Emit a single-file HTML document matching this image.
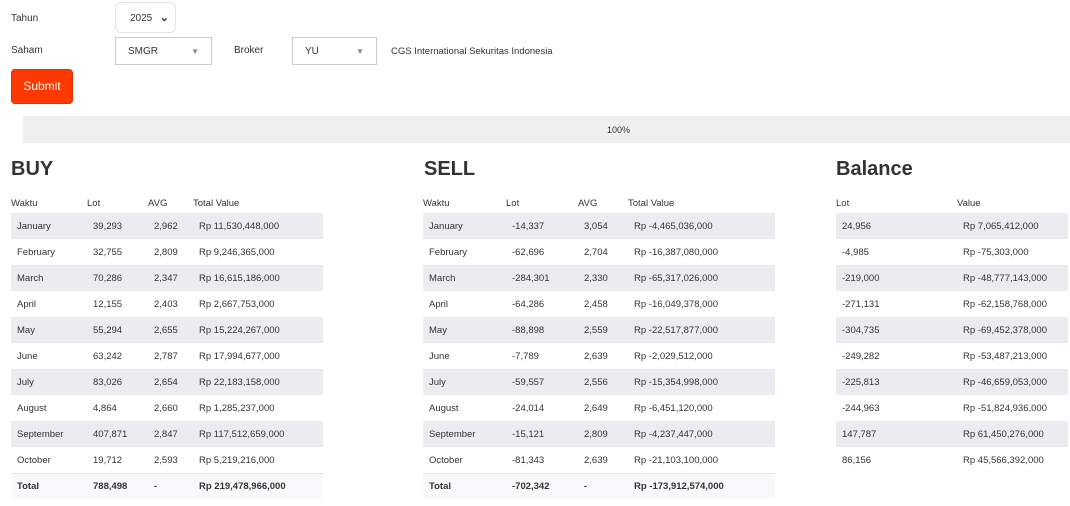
<!DOCTYPE html>
<html><head><style>
body{margin:0;width:1070px;height:506px;background:#fff;font-family:"Liberation Sans",sans-serif;color:#333;font-size:10px;position:relative;overflow:hidden}
.a{position:absolute}
table{position:absolute;border-collapse:collapse;table-layout:fixed;top:195px;font-size:9.5px;color:#333}
th{font-weight:normal;text-align:left;height:18px;padding:3px 0 0 0;vertical-align:top;box-sizing:border-box}
td{height:26px;padding:1px 0 0 6px;white-space:nowrap;box-sizing:border-box}
tbody tr:nth-child(odd) td{background:#ebebf0}
tbody tr.t td{background:#f8f9fa;font-weight:bold;border-top:1px solid #e3e3e3;height:26px}
h2{position:absolute;margin:0;font-size:20px;font-weight:bold;color:#333;top:158px}
.sel{position:absolute;border:1px solid #ccc;background:#fff;height:28px;box-sizing:border-box;font-size:10px;line-height:26px}
</style></head><body>
<div class="a" style="left:11px;top:13px">Tahun</div>
<div class="sel" style="left:115px;top:2px;width:61px;height:31px;border-color:#e3e3e8;border-radius:6px;line-height:31px;padding-left:14px">2025 <span style="position:absolute;right:6px;top:0;font-weight:bold;font-size:11px">&#8964;</span></div>
<div class="a" style="left:11px;top:45px">Saham</div>
<div class="sel" style="left:115px;top:37px;width:97px;padding-left:12px;line-height:27px">SMGR<span style="position:absolute;right:12px;color:#888;font-size:8px">&#9660;</span></div>
<div class="a" style="left:234px;top:45px">Broker</div>
<div class="sel" style="left:292px;top:37px;width:85px;padding-left:12px;line-height:27px">YU<span style="position:absolute;right:12px;color:#888;font-size:8px">&#9660;</span></div>
<div class="a" style="left:391px;top:46px;font-size:9.5px">CGS International Sekuritas Indonesia</div>
<div class="a" style="left:11px;top:69px;width:62px;height:35px;background:#ff3800;border:1px solid #e03000;border-radius:4px;box-sizing:border-box;color:#fff;font-size:12px;text-align:center;line-height:33px">Submit</div>
<div class="a" style="left:23px;top:116px;width:1047px;height:27px;background:#efefef"></div>
<div class="a" style="left:607px;top:125px;font-size:9px">100%</div>
<h2 style="left:11px">BUY</h2><h2 style="left:424px">SELL</h2><h2 style="left:836px">Balance</h2>

<table style="left:11px;width:312px">
<colgroup><col style="width:76px"><col style="width:61px"><col style="width:45px"><col></colgroup>
<thead><tr><th>Waktu</th><th>Lot</th><th>AVG</th><th>Total Value</th></tr></thead>
<tbody>
<tr><td>January</td><td>39,293</td><td>2,962</td><td>Rp 11,530,448,000</td></tr>
<tr><td>February</td><td>32,755</td><td>2,809</td><td>Rp 9,246,365,000</td></tr>
<tr><td>March</td><td>70,286</td><td>2,347</td><td>Rp 16,615,186,000</td></tr>
<tr><td>April</td><td>12,155</td><td>2,403</td><td>Rp 2,667,753,000</td></tr>
<tr><td>May</td><td>55,294</td><td>2,655</td><td>Rp 15,224,267,000</td></tr>
<tr><td>June</td><td>63,242</td><td>2,787</td><td>Rp 17,994,677,000</td></tr>
<tr><td>July</td><td>83,026</td><td>2,654</td><td>Rp 22,183,158,000</td></tr>
<tr><td>August</td><td>4,864</td><td>2,660</td><td>Rp 1,285,237,000</td></tr>
<tr><td>September</td><td>407,871</td><td>2,847</td><td>Rp 117,512,659,000</td></tr>
<tr><td>October</td><td>19,712</td><td>2,593</td><td>Rp 5,219,216,000</td></tr>
<tr class="t"><td>Total</td><td>788,498</td><td>-</td><td>Rp 219,478,966,000</td></tr>
</tbody></table>

<table style="left:423px;width:352px">
<colgroup><col style="width:83px"><col style="width:72px"><col style="width:50px"><col></colgroup>
<thead><tr><th>Waktu</th><th>Lot</th><th>AVG</th><th>Total Value</th></tr></thead>
<tbody>
<tr><td>January</td><td>-14,337</td><td>3,054</td><td>Rp -4,465,036,000</td></tr>
<tr><td>February</td><td>-62,696</td><td>2,704</td><td>Rp -16,387,080,000</td></tr>
<tr><td>March</td><td>-284,301</td><td>2,330</td><td>Rp -65,317,026,000</td></tr>
<tr><td>April</td><td>-64,286</td><td>2,458</td><td>Rp -16,049,378,000</td></tr>
<tr><td>May</td><td>-88,898</td><td>2,559</td><td>Rp -22,517,877,000</td></tr>
<tr><td>June</td><td>-7,789</td><td>2,639</td><td>Rp -2,029,512,000</td></tr>
<tr><td>July</td><td>-59,557</td><td>2,556</td><td>Rp -15,354,998,000</td></tr>
<tr><td>August</td><td>-24,014</td><td>2,649</td><td>Rp -6,451,120,000</td></tr>
<tr><td>September</td><td>-15,121</td><td>2,809</td><td>Rp -4,237,447,000</td></tr>
<tr><td>October</td><td>-81,343</td><td>2,639</td><td>Rp -21,103,100,000</td></tr>
<tr class="t"><td>Total</td><td>-702,342</td><td>-</td><td>Rp -173,912,574,000</td></tr>
</tbody></table>

<table style="left:836px;width:232px">
<colgroup><col style="width:121px"><col></colgroup>
<thead><tr><th>Lot</th><th>Value</th></tr></thead>
<tbody>
<tr><td>24,956</td><td>Rp 7,065,412,000</td></tr>
<tr><td>-4,985</td><td>Rp -75,303,000</td></tr>
<tr><td>-219,000</td><td>Rp -48,777,143,000</td></tr>
<tr><td>-271,131</td><td>Rp -62,158,768,000</td></tr>
<tr><td>-304,735</td><td>Rp -69,452,378,000</td></tr>
<tr><td>-249,282</td><td>Rp -53,487,213,000</td></tr>
<tr><td>-225,813</td><td>Rp -46,659,053,000</td></tr>
<tr><td>-244,963</td><td>Rp -51,824,936,000</td></tr>
<tr><td>147,787</td><td>Rp 61,450,276,000</td></tr>
<tr><td>86,156</td><td>Rp 45,566,392,000</td></tr>
</tbody></table>
</body></html>
